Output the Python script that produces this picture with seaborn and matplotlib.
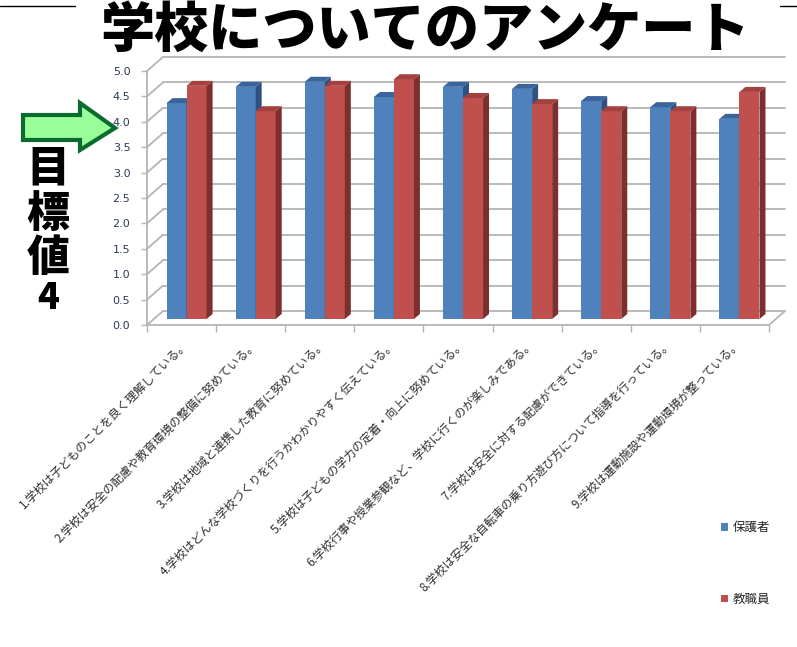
import numpy as np
import pandas as pd
import matplotlib
matplotlib.use("Agg")
import matplotlib.pyplot as plt
import seaborn as sns
from matplotlib.patches import Polygon, Patch
from matplotlib.lines import Line2D
from matplotlib.transforms import ScaledTranslation

# DATA
questions = [
    "1.学校は子どものことを良く理解している。",
    "2.学校は安全の配慮や教育環境の整備に努めている。",
    "3.学校は地域と連携した教育に努めている。",
    "4.学校はどんな学校づくりを行うかわかりやすく伝えている。",
    "5.学校は子どもの学力の定着・向上に努めている。",
    "6.学校行事や授業参観など、学校に行くのが楽しみである。",
    "7.学校は安全に対する配慮ができている。",
    "8.学校は安全な自転車の乗り方遊び方について指導を行っている。",
    "9.学校は運動施設や運動環境が整っている。",
]
parents = [4.25, 4.57, 4.67, 4.37, 4.57, 4.53, 4.29, 4.17, 3.94]
staff = [4.59, 4.09, 4.59, 4.72, 4.35, 4.23, 4.09, 4.09, 4.47]
groups = ["保護者", "教職員"]
y_ticks = np.arange(0, 5.01, 0.5)

# CONSTANT: Colors
BLUE = "#4F81BD"
RED = "#C0504D"
# (top face, side face) per series
FACES = [("#3B659A", "#2F5181"), ("#A3413E", "#7D2F2D")]
GRID = "#B4B4B4"
TICK_TEXT = "#2C3A58"

sns.set_theme(style="white")
plt.rcParams['font.family'] = ['Noto Sans CJK JP', 'DejaVu Sans']

df = pd.DataFrame({
    "項目": questions * 2,
    "評価": parents + staff,
    "回答者": [groups[0]] * len(questions) + [groups[1]] * len(questions),
})

W, H = 797, 647
fig = plt.figure(figsize=(W / 100, H / 100), dpi=100)
ax = fig.add_axes([147 / W, 1 - 325 / H, 622 / W, 254 / H])

sns.barplot(data=df, x="項目", y="評価", hue="回答者", palette=[BLUE, RED],
            width=0.58, saturation=1, legend=False, ax=ax, zorder=3)

n = len(questions)
ax.set_xlim(-0.5, n - 0.5)
ax.set_ylim(0, 5)

# pixel -> data units
px_x = n / 622
px_y = 5 / 254

# back wall / floor offset
gx, gy = 16 * px_x, 14 * px_y
for v in y_ticks:
    ax.plot([-0.5 + gx, n - 0.5 + gx], [v + gy, v + gy], color=GRID, lw=1.3,
            clip_on=False, zorder=1)
    ax.plot([-0.5, -0.5 + gx], [v, v + gy], color=GRID, lw=1.3, clip_on=False, zorder=1)
ax.plot([n - 0.5, n - 0.5 + gx], [0, gy], color=GRID, lw=1.3, clip_on=False, zorder=1)

# bars sit in the middle of the floor depth, give them a 3D look
shift = ax.transData + ScaledTranslation(5 / 100, 6 / 100, fig.dpi_scale_trans)
dx, dy = 6 * px_x, 5 * px_y
for k, cont in enumerate(ax.containers):
    top_c, side_c = FACES[k]
    for p in cont.patches:
        p.set_transform(shift)
        p.set_clip_on(False)
        p.set_edgecolor("none")
        p.set_zorder(3 + k)
        x0, w, h = p.get_x(), p.get_width(), p.get_height()
        side = Polygon([(x0 + w, 0), (x0 + w, h), (x0 + w + dx, h + dy), (x0 + w + dx, dy)],
                       closed=True, facecolor=side_c, edgecolor="none",
                       transform=shift, clip_on=False, zorder=3.1 + k)
        top = Polygon([(x0, h), (x0 + w, h), (x0 + w + dx, h + dy), (x0 + dx, h + dy)],
                      closed=True, facecolor=top_c, edgecolor="none",
                      transform=shift, clip_on=False, zorder=3.1 + k)
        ax.add_patch(side)
        ax.add_patch(top)

# GRAPH: Axes settings
for s in ["top", "right"]:
    ax.spines[s].set_visible(False)
for s in ["left", "bottom"]:
    ax.spines[s].set_color(GRID)
    ax.spines[s].set_linewidth(1.3)
    ax.spines[s].set_zorder(2)

ax.set_yticks(y_ticks)
ax.set_yticklabels([f"{v:.1f}" for v in y_ticks], fontsize=8, color=TICK_TEXT,
                   family=['DejaVu Sans'])
ax.tick_params(axis="y", left=True, length=4, width=1, color=GRID, pad=8)

ax.set_xticks(np.arange(n))
ax.set_xticklabels(questions, rotation=45, ha="right", va="top",
                   rotation_mode="anchor", fontsize=8.5, color="#2E2E2E")
ax.set_xticks(np.arange(-0.5, n), minor=True)
ax.tick_params(axis="x", which="major", length=0, pad=9)
ax.tick_params(axis="x", which="minor", bottom=True, length=5, width=1, color=GRID)
ax.set_xlabel("")
ax.set_ylabel("")
ax.grid(False)

# Legend
handles = [Patch(facecolor=BLUE, edgecolor="none"), Patch(facecolor=RED, edgecolor="none")]
ax.legend(handles, groups, loc="upper left", bbox_to_anchor=(710 / W, 1 - 510 / H),
          bbox_transform=fig.transFigure, frameon=False, fontsize=9,
          handlelength=0.55, handleheight=0.55, handletextpad=0.35, labelspacing=4.7)

# Title
fig.text(425 / W, 1 - 31 / H, "学校についてのアンケート", ha="center", va="center",
         fontsize=39, fontweight="heavy", color="black")
fig.add_artist(Line2D([0, 75 / W], [1 - 6 / H, 1 - 6 / H], color="black", lw=1,
                      transform=fig.transFigure))
fig.add_artist(Line2D([780 / W, 1], [1 - 6 / H, 1 - 6 / H], color="black", lw=1,
                      transform=fig.transFigure))

# Target arrow
arrow_px = [(23, 115), (80, 115), (80, 103), (115, 128), (80, 150), (80, 140), (23, 140)]
fig.add_artist(Polygon([(x / W, 1 - y / H) for x, y in arrow_px], closed=True,
                       facecolor="#99FF99", edgecolor="#0B6B2E", lw=3,
                       transform=fig.transFigure, joinstyle="miter"))

for ch, yc, fs in zip("目標値4", [169, 214, 258, 298], [31, 31, 31, 26]):
    fig.text(48 / W, 1 - yc / H, ch, ha="center", va="center", fontsize=fs,
             fontweight="heavy", color="black")

plt.savefig("out.png", dpi=100)
